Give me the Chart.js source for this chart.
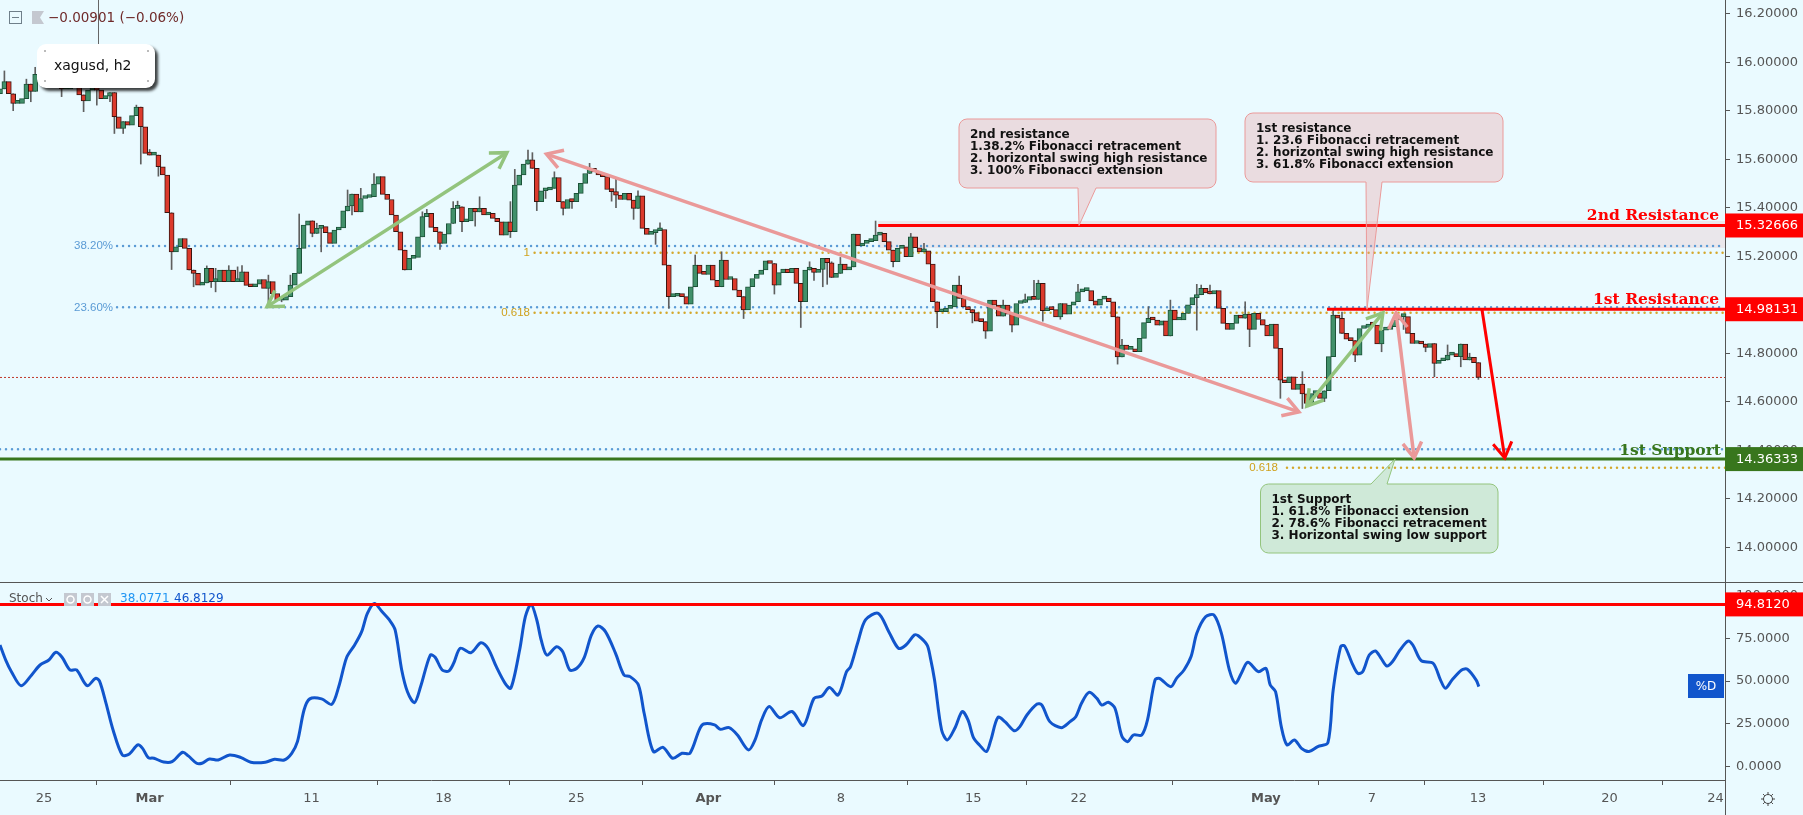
<!DOCTYPE html>
<html>
<head>
<meta charset="utf-8">
<title>xagusd, h2</title>
<script src="https://cdn.jsdelivr.net/npm/chart.js@4/dist/chart.umd.min.js"></script>
<style>
  html,body{margin:0;padding:0;background:#eafaff;overflow:hidden;}
  canvas{display:block;}
</style>
</head>
<body>
<canvas id="chart" width="1803" height="815"></canvas>
<script>
//....price data, one candle per two bars, open = close before it
const closes = [
  15.89,15.92,15.87,15.83,15.83,15.85,15.91,15.88,15.95,15.93,
  15.93,15.93,15.92,15.91,15.89,15.89,15.91,15.90,15.865,15.84,
  15.885,15.89,15.885,15.85,15.86,15.875,15.775,15.727,15.755,15.74,
  15.78,15.815,15.734,15.624,15.617,15.617,15.569,15.535,15.379,15.218,
  15.239,15.273,15.232,15.143,15.129,15.081,15.09,15.15,15.095,15.095,
  15.143,15.095,15.143,15.095,15.095,15.136,15.08,15.074,15.085,15.104,
  15.067,15.095,15.046,15.019,15.019,15.033,15.081,15.129,15.232,15.328,
  15.346,15.294,15.315,15.322,15.297,15.253,15.308,15.317,15.387,15.407,
  15.456,15.383,15.438,15.442,15.445,15.497,15.528,15.455,
  15.434,15.370,15.301,15.225,15.143,15.191,15.195,15.280,15.363,15.377,
  15.319,15.301,15.253,15.291,15.335,15.397,15.404,15.342,15.345,15.397,
  15.383,15.397,15.370,15.377,15.356,15.342,15.287,15.342,15.301,15.493,
  15.535,15.580,15.597,15.562,15.425,15.470,15.473,15.480,15.524,15.425,
  15.397,15.434,15.425,15.459,15.500,15.541,15.562,15.548,15.535,15.528,
  15.475,15.466,15.452,15.434,15.459,15.431,15.397,15.449,15.315,15.290,
  15.297,15.305,15.310,15.163,15.033,15.035,15.044,15.033,15.002,15.074,
  15.163,15.129,15.125,15.163,15.101,15.074,15.184,15.104,15.108,15.060,
  15.033,14.978,15.074,
  15.108,15.125,15.143,15.181,15.170,15.081,15.132,15.147,15.132,15.150,
  15.088,15.012,15.143,15.150,15.133,15.145,15.191,15.173,15.112,15.129,
  15.167,15.143,15.156,15.291,15.242,15.253,15.260,15.264,15.287,15.294,
  15.260,15.225,15.177,15.232,15.239,15.198,15.280,15.235,15.218,15.222,
  15.167,15.012,14.971,14.971,14.985,14.991,15.081,15.026,14.991,14.980,
  14.967,14.932,14.930,14.891,15.019,14.998,14.953,14.998,14.961,14.916,
  15.005,15.009,15.019,15.033,15.022,15.088,14.975,14.985,14.980,14.950,
  15.005,14.961,14.998,15.012,15.053,15.058,15.058,15.016,14.998,15.023,
  15.027,15.012,14.950,14.785,
  14.834,14.816,14.816,14.806,14.861,14.926,14.944,14.937,14.916,14.934,
  14.871,14.978,14.937,14.937,14.964,14.999,15.029,15.041,15.067,15.049,
  15.044,15.058,14.985,14.923,14.898,14.923,14.957,14.944,14.961,14.898,
  14.964,14.939,14.916,14.871,14.920,14.820,14.689,14.678,14.703,14.651,
  14.673,14.632,14.593,14.634,14.637,14.614,14.645,14.786,14.957,14.944,
  14.882,14.858,14.852,14.792,14.902,14.906,14.920,14.916,14.838,14.895,
  14.898,14.909,14.937,14.951,14.951,14.882,14.840,14.843,14.838,14.824,
  14.840,14.758,14.769,14.772,14.792,14.797,14.786,14.838,14.772,14.783,
  14.761,14.700
];
const firstOpen = 15.87;

//....the longer wicks, candle number and price
const wickUpAt = [1,6,8,31,34,36,43,47,49,52,54,55,61,66,68,72,79,82,85,96,97,103,104,109,116,117,120,121,126,134,140,145,150,152,158,164,176,184,189,191,199,207,210,218,228,233,235,236,245,255,261,266,272,273,275,283,296,303,305,329,334];
const wickUpPrice = [15.964,15.93,15.979,15.823,15.64,15.56,15.205,15.16,15.15,15.161,15.156,15.161,15.122,15.122,15.374,15.336,15.473,15.48,15.541,15.383,15.393,15.425,15.427,15.445,15.425,15.558,15.638,15.627,15.548,15.583,15.525,15.47,15.338,15.115,15.205,15.218,15.167,15.177,15.177,15.195,15.345,15.294,15.253,15.118,15.019,15.044,15.101,15.101,15.084,14.857,14.992,15.019,15.084,15.081,15.081,15.012,14.724,14.981,14.97,14.834,14.80];
const wickLowAt = [3,7,14,19,22,25,26,28,32,36,39,44,48,49,61,64,71,73,80,92,100,105,108,116,122,124,128,130,139,140,144,149,152,169,176,182,185,187,188,194,203,213,221,224,230,237,241,254,272,284,291,296,301,308,314,319,324,326,332,336];
const wickLowPrice = [15.80,15.837,15.858,15.796,15.823,15.837,15.706,15.706,15.58,15.53,15.145,15.074,15.071,15.053,15.005,15.012,15.28,15.218,15.37,15.173,15.228,15.301,15.324,15.277,15.388,15.438,15.37,15.397,15.427,15.40,15.352,15.249,14.985,14.943,15.044,14.906,15.10,15.074,15.084,15.20,15.156,14.905,14.925,14.861,14.888,14.932,14.94,14.755,14.895,14.827,14.614,14.572,14.60,14.765,14.806,14.898,14.806,14.703,14.744,14.692];

//....stochastic %D, read at the turns of the line
const stochAt = [0,1.3,2.6,4.8,7.2,9.1,11.1,12.7,14.1,15.9,17.4,19.8,21.7,22.6,24.1,25.7,27.8,29.4,31.3,32.4,33.7,35,37.2,39.1,41.5,42.8,44.7,45.9,47.6,49.6,52.2,54.8,57,60.3,62.4,64.6,66.3,67.6,69.1,70.4,73.1,75.4,77,78.8,80.6,82.2,83.5,85.1,86.8,88.5,89.8,91.3,92.6,94.2,95.6,97.8,98.9,100.5,102,103.1,104.6,107,109.3,110.9,112.8,114.8,116.1,118.1,119.4,120.7,122,123,124.3,126.5,127.9,129.5,131.1,132.8,134.4,135.9,137.6,139.9,141.8,143.2,145.1,146.4,148.5,150.7,152.9,155,156.8,158.9,159.9,162.4,163.7,165.7,167.6,170.1,171.6,173.1,174.8,177.2,180,182.6,185,186.8,188.5,190.5,192.4,193.3,195,196.7,199.6,202,204.2,205.9,207.8,208.7,210.7,211.4,212.4,214,215.3,217,218.7,220,221.3,222.6,224.2,225.2,226.8,228.4,230.5,231.8,233.4,235.7,236.8,238.6,241.2,243.2,244.5,245.8,247.5,249.3,250.4,251.9,253.4,255,256.3,257.6,259.5,260.8,262.5,263.5,266.1,267.4,269.1,270.7,272,274,275.9,277.6,279.4,280.8,282.1,283.6,286,287.7,288.7,289.9,291.2,292.5,294.2,295.8,297.5,299.5,301.8,303,304.7,305.6,307.3,308.6,309.7,311.2,312.6,313.9,315.2,316.5,318.2,320,321.1,323,325.7,327.4,328.5,330,332.2,333.5,335.5,336.1];
const stochD = [71.1,62.3,55.5,47.3,53.6,59.4,62.3,66.8,63.9,56.5,56.5,47.3,51.6,50.1,37,21.4,6.8,7.4,12.7,10.7,5.3,4.9,2.7,2.9,8.4,6.3,2,2,4.5,3.9,6.8,5.3,2.6,2.6,4.3,3.9,7.8,14.6,33.1,39.6,39.6,36.4,46.8,63.9,71.1,78.9,89.6,95.4,90.6,85.7,79.9,56.5,43.8,37.4,46.8,65.2,63.9,56.5,55.9,60.4,69.2,66.6,72.4,69.2,58.4,48.7,45.8,68.2,87.6,94.8,85.7,74,65.2,70.1,67.2,56.5,57.5,63.9,76.9,82.2,78.9,66.2,53.6,52.6,47.7,31.2,8.8,11.3,4.9,7.8,7.8,21.4,24.9,24.4,21.8,22.8,18.5,9.8,15.6,27.3,35.1,28.6,32.2,24,39.9,41.3,46.2,41.9,55.5,58.4,73,85.7,89.6,78.9,69.2,71.1,76.9,76.5,71.1,64.3,50.6,21.4,15.6,22.4,32.2,27.3,16.6,12.7,8.8,15.6,28.8,26.3,21,23.4,30.2,36.6,36,26.3,22.8,26.3,29.2,37,43.4,39.9,36,37.6,34.1,17.6,14.6,18.5,18.5,27.3,50.6,51.6,46.7,51.6,56.5,64.3,77.9,87.6,88.6,77.9,56.5,48.7,54.5,61,55.5,57.5,47.7,43.8,23.4,12.7,15.6,10.7,8.8,11.7,14,44.8,70.1,70.5,60.4,54.5,55.5,65.2,67.6,63.3,58.8,61.4,68.2,73.4,71.1,61.9,60.4,50.6,45.8,50.6,56.5,56.9,50.6,46.8];

//....axes
const priceTicks = [16.2,16,15.8,15.6,15.4,15.2,15,14.8,14.6,14.4,14.2,14];
const stochTicks = [100,75,50,25,0];
const timeTickAt = [10,34,70.8,100.8,131,161,191.1,221.2,245.2,287.7,311.8,335.9,365.8,389.9];
const timeTickLabels = ["25","Mar","11","18","25","Apr","8","15","22","May","7","13","20","24"];
const monthLabels = ["Mar","Apr","May"];

//....levels on the chart
const resistance2 = 15.32666;
const resistance1 = 14.98131;
const support1 = 14.36333;
const stochLevel = 94.812;
const lastPrice = 14.70;
const fibBlue382 = 15.242;
const fibBlue236 = 14.989;
const fibBlueLow = 14.404;
const fibGold1 = 15.214;
const fibGold618 = 14.967;
const fibGoldLow = 14.328;
const zoneTop = 15.345;
const zoneBottom = 15.234;

//....arrows: from candle, from price, to candle, to price
const arrowGreen1 = [60.7,14.992,115.2,15.627];
const arrowPink1 = [124.2,15.621,295.2,14.558];
const arrowGreen2 = [297,14.582,314.3,14.966];
const arrowPink2 = [317.3,14.966,321.4,14.368];
const arrowRed = [336.8,14.982,342,14.368];

//....notes
const note2nd = ["2nd resistance","1.38.2% Fibonacci retracement","2. horizontal swing high resistance","3. 100% Fibonacci extension"];
const note1st = ["1st resistance","1. 23.6 Fibonacci retracement","2. horizontal swing high resistance","3. 61.8% Fibonacci extension"];
const noteSupport = ["1st Support","1. 61.8% Fibonacci extension","2. 78.6% Fibonacci retracement","3. Horizontal swing low support"];

const axisEnd = 392.05;
const axisColor = "#555";
const textFont = '"DejaVu Sans"';

//....building candles from the lists above
let bodies = [], bodyFill = [], bodyEdge = [], wicks = [];
let open = firstOpen;
for(let i=0;i<closes.length;i++){
  let close = closes[i];
  bodies.push({x:i,y:[open,close]});
  bodyFill.push(close>=open ? "#41906a" : "#dc3a2c");
  bodyEdge.push(close>=open ? "#1c5238" : "#3a1410");
  let top = Math.max(open,close), bottom = Math.min(open,close);
  let u = wickUpAt.indexOf(i), d = wickLowAt.indexOf(i);
  if(u>=0 || d>=0){
    wicks.push({x:i,y:[d>=0?Math.min(bottom,wickLowPrice[d]):bottom, u>=0?Math.max(top,wickUpPrice[u]):top]});
  }
  open = close;
}
const stochLine = stochAt.map((a,i)=>({x:a,y:stochD[i]}));

function flatLine(from,to,value){
  return [{x:from,y:value},{x:to,y:value}];
}
function dotted(from,value,color){
  return {type:"line",data:flatLine(from,axisEnd,value),borderColor:color,borderWidth:2.5,borderDash:[0,6],borderCapStyle:"round",pointRadius:0,order:3};
}
function solid(from,value,color,axis){
  return {type:"line",data:flatLine(from,axisEnd,value),borderColor:color,borderWidth:3,pointRadius:0,order:0,yAxisID:axis||"y"};
}

//....drawing helpers
function drawHead(c,x1,y1,x2,y2){
  let a = Math.atan2(y2-y1,x2-x1);
  c.beginPath();
  c.moveTo(x2-18*Math.cos(a-0.55),y2-18*Math.sin(a-0.55));
  c.lineTo(x2,y2);
  c.lineTo(x2-18*Math.cos(a+0.55),y2-18*Math.sin(a+0.55));
  c.stroke();
}
function drawArrow(chart,arrow,color,both,width){
  let c = chart.ctx, sx = chart.scales.x, sy = chart.scales.y;
  let x1 = sx.getPixelForValue(arrow[0]), y1 = sy.getPixelForValue(arrow[1]);
  let x2 = sx.getPixelForValue(arrow[2]), y2 = sy.getPixelForValue(arrow[3]);
  c.save();
  c.strokeStyle = color;
  c.lineWidth = width;
  c.beginPath();
  c.moveTo(x1,y1);
  c.lineTo(x2,y2);
  c.stroke();
  drawHead(c,x1,y1,x2,y2);
  if(both) drawHead(c,x2,y2,x1,y1);
  c.restore();
}
//....box is left,top,right,bottom and the tail is base left,base right,tip y
function drawNote(c,box,tail,below,lines,fill,edge){
  let [l,t,r,b] = box, rad = 8;
  c.save();
  c.beginPath();
  c.moveTo(l+rad,t);
  if(!below){
    c.lineTo(tail[0],t);
    c.lineTo(tail[1]+8,tail[2]);
    c.lineTo(tail[1],t);
  }
  c.arcTo(r,t,r,b,rad);
  c.arcTo(r,b,l,b,rad);
  if(below){
    c.lineTo(tail[1],b);
    c.lineTo(tail[0]+1,tail[2]);
    c.lineTo(tail[0],b);
  }
  c.arcTo(l,b,l,t,rad);
  c.arcTo(l,t,r,t,rad);
  c.closePath();
  c.fillStyle = fill;
  c.fill();
  c.strokeStyle = edge;
  c.lineWidth = 1;
  c.stroke();
  c.fillStyle = "#111";
  c.font = "bold 12px "+textFont;
  c.textAlign = "left";
  c.textBaseline = "middle";
  lines.forEach((s,i)=>c.fillText(s,l+11,t+15.5+i*12));
  c.restore();
}
function drawTag(c,y,h,text,color){
  c.fillStyle = color;
  c.fillRect(1725,y-h/2,78,h);
  c.fillStyle = "#fff";
  c.font = "13px "+textFont;
  c.textAlign = "left";
  c.textBaseline = "middle";
  c.fillText(text,1736,y+0.5);
}
function label(c,text,x,y,font,color,align){
  c.font = font;
  c.fillStyle = color;
  c.textAlign = align||"left";
  c.textBaseline = "middle";
  c.fillText(text,x,y);
}

const overlay = {
  id:"overlay",
  beforeDatasetsDraw(chart){
    let c = chart.ctx, sx = chart.scales.x, sy = chart.scales.y;
    //....zone under 2nd resistance
    let zl = sx.getPixelForValue(199.6), zt = sy.getPixelForValue(zoneTop), zb = sy.getPixelForValue(zoneBottom);
    c.fillStyle = "rgba(234,153,153,0.2)";
    c.fillRect(zl,zt,1725-zl,zb-zt);
    //....crosshair stub over the name box
    c.fillStyle = "#666";
    c.fillRect(98,0,1,44);
  },
  afterDatasetsDraw(chart){
    let c = chart.ctx, sy = chart.scales.y;
    drawArrow(chart,arrowGreen1,"#93c47d",true,3.5);
    drawArrow(chart,arrowPink1,"#ea9999",true,3.5);
    drawArrow(chart,arrowGreen2,"#93c47d",true,3.5);
    drawArrow(chart,arrowPink2,"#ea9999",true,3.5);
    drawArrow(chart,arrowRed,"#ff0000",false,3);

    let pink = "rgba(234,153,153,0.3)", green = "rgba(147,196,125,0.3)";
    drawNote(c,[959,119,1216,188],[1078,1096,sy.getPixelForValue(resistance2)],true,note2nd,pink,"#ea9999");
    drawNote(c,[1245,113,1503,182],[1366,1382,sy.getPixelForValue(resistance1)],true,note1st,pink,"#ea9999");
    drawNote(c,[1260.5,484,1498,553],[1371,1387,sy.getPixelForValue(support1)],false,noteSupport,green,"#93c47d");

    //....fib names
    let small = '11.5px "Liberation Sans"';
    label(c,"38.20%",113,sy.getPixelForValue(fibBlue382),small,"#5b9bd5","right");
    label(c,"23.60%",113,sy.getPixelForValue(fibBlue236),small,"#5b9bd5","right");
    label(c,"1",530,sy.getPixelForValue(fibGold1),small,"#cfa11d","right");
    label(c,"0.618",530,sy.getPixelForValue(fibGold618),small,"#cfa11d","right");
    label(c,"0.618",1278,sy.getPixelForValue(fibGoldLow),small,"#cfa11d","right");

    //....level names
    let big = 'bold 15.5px "DejaVu Serif"';
    label(c,"2nd Resistance",1719,216,big,"#ff0000","right");
    label(c,"1st Resistance",1719,300,big,"#ff0000","right");
    label(c,"1st Support",1721,451,big,"#38761d","right");
  },
  afterDraw(chart){
    let c = chart.ctx, sy = chart.scales.y, ss = chart.scales.stoch;
    c.save();
    //....pane frame
    c.fillStyle = axisColor;
    c.fillRect(0,582,1803,1);
    c.fillRect(1725,0,1,815);

    //....price and level tags
    drawTag(c,sy.getPixelForValue(resistance2),24,"15.32666","#ff0000");
    drawTag(c,sy.getPixelForValue(resistance1),24,"14.98131","#ff0000");
    drawTag(c,sy.getPixelForValue(support1),24,"14.36333","#38761d");
    drawTag(c,ss.getPixelForValue(stochLevel),24,"94.8120","#ff0000");

    c.fillStyle = "#1155cc";
    c.fillRect(1688,674,36,24);
    label(c,"%D",1706,686.5,"12px "+textFont,"#fff","center");

    //....top left legend
    c.strokeStyle = "#6f7f8a";
    c.lineWidth = 1;
    c.strokeRect(9.5,11.5,12,12);
    c.fillStyle = "#6f7f8a";
    c.fillRect(12,17,7,1);
    c.fillStyle = "#c4c8d0";
    c.beginPath();
    c.moveTo(32,11);c.lineTo(44,11);c.lineTo(40,17.5);c.lineTo(44,24);c.lineTo(32,24);
    c.closePath();
    c.fill();
    label(c,"\u22120.00901 (\u22120.06%)",48,18,"13.5px "+textFont,"#6f2a2a");

    //....name box
    c.shadowColor = "rgba(0,0,0,0.75)";
    c.shadowBlur = 3;
    c.shadowOffsetX = 3;
    c.shadowOffsetY = 3;
    c.fillStyle = "#fff";
    c.beginPath();
    c.roundRect(37,44,118,44,9);
    c.fill();
    c.shadowColor = "transparent";
    c.shadowBlur = 0;
    c.shadowOffsetX = 0;
    c.shadowOffsetY = 0;
    c.fillStyle = "#bbb";
    [[44,50],[147,50],[44,80],[147,80]].forEach(p=>c.fillRect(p[0],p[1],2,2));
    label(c,"xagusd, h2",54,66,"14px "+textFont,"#111");

    //....stoch legend
    let stochFont = "12px "+textFont;
    label(c,"Stoch",9,599,stochFont,"#555");
    c.strokeStyle = "#555";
    c.beginPath();
    c.moveTo(46,598);c.lineTo(49,601);c.lineTo(52,598);
    c.stroke();
    c.fillStyle = "#c4c8d0";
    c.fillRect(64,593,13,13);
    c.fillRect(81,593,13,13);
    c.fillRect(98,593,13,13);
    c.strokeStyle = "#fff";
    c.lineWidth = 1.5;
    c.beginPath();c.arc(70.5,599.5,3.5,0,Math.PI*2);c.stroke();
    c.beginPath();c.arc(87.5,599.5,3.5,0,Math.PI*2);c.stroke();
    c.beginPath();
    c.moveTo(101,596);c.lineTo(108,603);c.moveTo(108,596);c.lineTo(101,603);
    c.stroke();
    label(c,"38.0771",120,599,stochFont,"#2196f3");
    label(c,"46.8129",174,599,stochFont,"#1155cc");

    //....settings icon in the corner
    c.strokeStyle = "#444";
    c.lineWidth = 1;
    c.beginPath();c.arc(1768,799,4.5,0,Math.PI*2);c.stroke();
    for(let i=0;i<8;i++){
      let a = i*Math.PI/4;
      c.beginPath();
      c.moveTo(1768+4.5*Math.cos(a),799+4.5*Math.sin(a));
      c.lineTo(1768+7*Math.cos(a),799+7*Math.sin(a));
      c.stroke();
    }
    c.restore();
  }
};

//....no label overhang, the plot fills the canvas up to the axes
function fixWidth(axis){
  axis.width = 78;
  axis.paddingTop = 0;
  axis.paddingBottom = 0;
}
function fixHeight(axis){
  axis.height = 35;
  axis.paddingLeft = 0;
  axis.paddingRight = 0;
}

new Chart(document.getElementById("chart"),{
  type:"bar",
  plugins:[overlay],
  data:{
    datasets:[
      dotted(26.6,fibBlue382,"#5b9bd5"),
      dotted(26.6,fibBlue236,"#5b9bd5"),
      dotted(0,fibBlueLow,"#5b9bd5"),
      dotted(121.5,fibGold1,"#d4a72c"),
      dotted(121.5,fibGold618,"#d4a72c"),
      dotted(292.5,fibGoldLow,"#d4a72c"),
      {type:"line",data:flatLine(0,axisEnd,lastPrice),borderColor:"#c0392b",borderWidth:1,borderDash:[2,2],pointRadius:0,order:3},
      {type:"bar",data:wicks,backgroundColor:"#5f5f5f",barThickness:1,grouped:false,order:2},
      {type:"bar",data:bodies,backgroundColor:bodyFill,borderColor:bodyEdge,borderWidth:1,borderSkipped:false,barThickness:5,minBarLength:3,grouped:false,order:1},
      solid(199.6,resistance2,"#ff0000"),
      solid(301.6,resistance1,"#ff0000"),
      solid(0,support1,"#38761d"),
      solid(0,stochLevel,"#ff0000","stoch"),
      {type:"line",data:stochLine,yAxisID:"stoch",borderColor:"#1155cc",borderWidth:3,tension:0.3,pointRadius:0,order:0}
    ]
  },
  options:{
    responsive:false,
    devicePixelRatio:1,
    animation:false,
    events:[],
    layout:{padding:0},
    plugins:{legend:{display:false},tooltip:{enabled:false}},
    scales:{
      x:{
        type:"linear",
        min:0,
        max:axisEnd,
        offset:false,
        afterBuildTicks(axis){ axis.ticks = timeTickAt.map(v=>({value:v})); },
        afterFit:fixHeight,
        grid:{display:true,drawOnChartArea:false,drawTicks:true,tickLength:5,color:axisColor},
        border:{display:true,color:axisColor},
        ticks:{
          autoSkip:false,
          maxRotation:0,
          padding:6,
          color:"#555",
          font(ctx){
            let bold = ctx.tick && monthLabels.includes(timeTickLabels[ctx.index]);
            return {family:"DejaVu Sans",size:13,weight:bold?"bold":"normal"};
          },
          callback(v,i){ return timeTickLabels[i]; }
        }
      },
      y:{
        type:"linear",
        position:"right",
        stack:"panes",
        stackWeight:582,
        min:13.8565,
        max:16.2565,
        afterBuildTicks(axis){ axis.ticks = priceTicks.map(v=>({value:v})); },
        afterFit:fixWidth,
        grid:{display:true,drawOnChartArea:false,drawTicks:true,tickLength:5,color:axisColor},
        border:{display:false},
        ticks:{padding:6,color:"#555",font:{family:"DejaVu Sans",size:13},callback(v){ return v.toFixed(5); }}
      },
      stoch:{
        type:"linear",
        axis:"y",
        position:"right",
        stack:"panes",
        stackWeight:198,
        min:-7.8,
        max:107.9,
        afterBuildTicks(axis){ axis.ticks = stochTicks.map(v=>({value:v})); },
        afterFit:fixWidth,
        grid:{display:true,drawOnChartArea:false,drawTicks:true,tickLength:5,color:axisColor},
        border:{display:false},
        ticks:{padding:6,color:"#555",font:{family:"DejaVu Sans",size:13},callback(v){ return v.toFixed(4); }}
      }
    }
  }
});
</script>
</body>
</html>
